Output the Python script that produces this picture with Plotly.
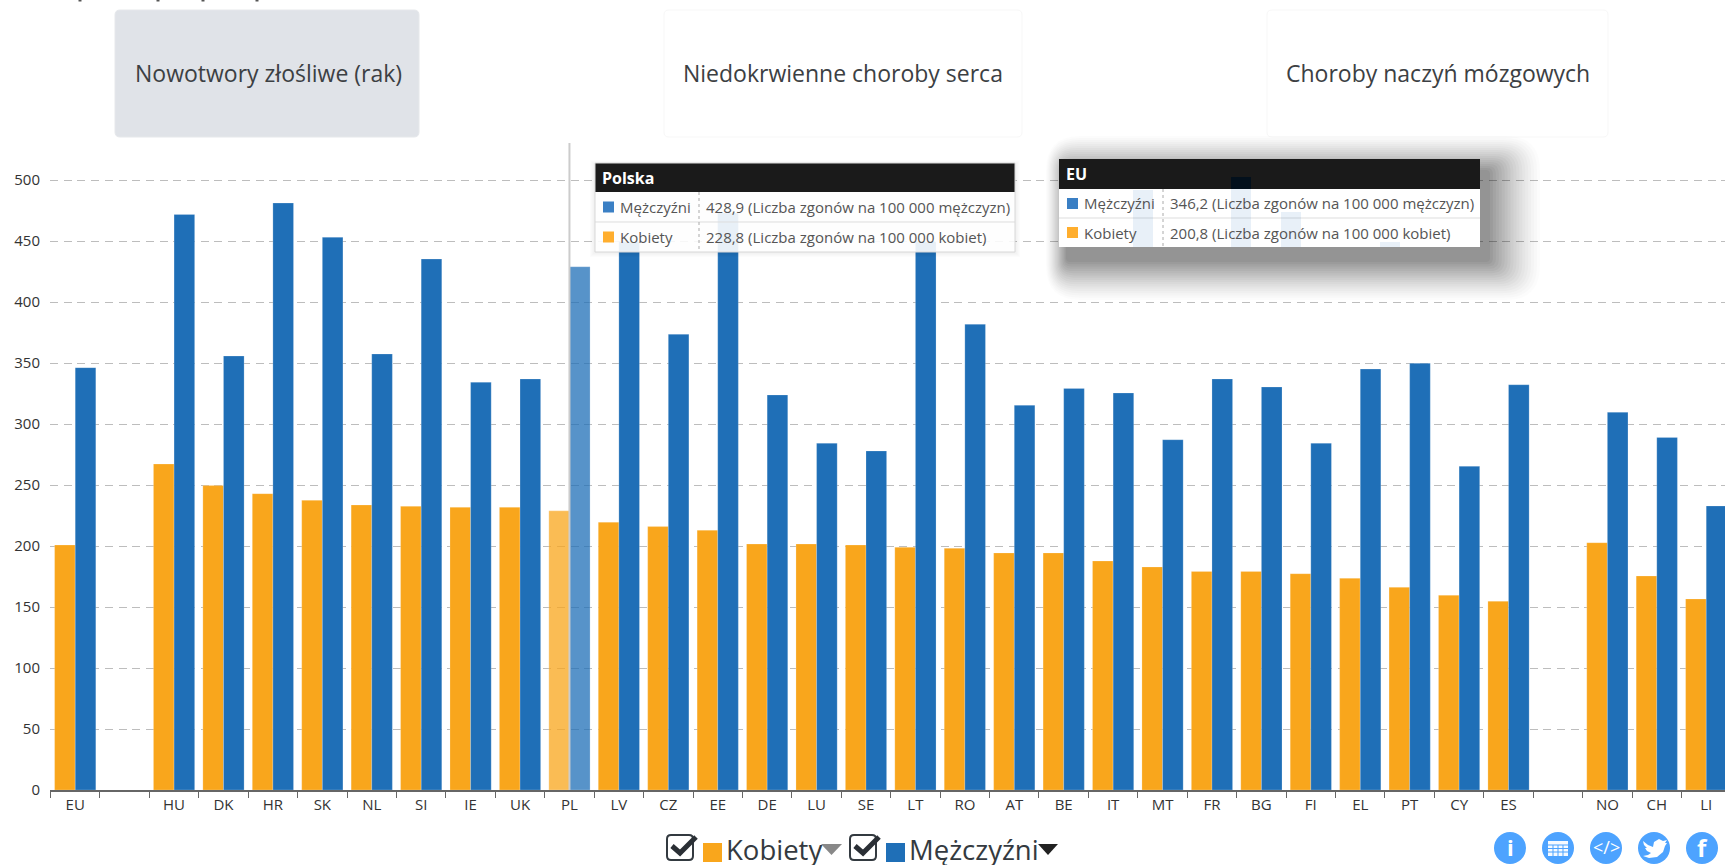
import plotly.graph_objects as go

categories = ["EU", " ", "HU", "DK", "HR", "SK", "NL", "SI", "IE", "UK", "PL", "LV", "CZ", "EE", "DE", "LU", "SE",
              "LT", "RO", "AT", "BE", "IT", "MT", "FR", "BG", "FI", "EL", "PT", "CY", "ES", "  ", "NO", "CH", "LI"]
kobiety = [200.8, None, 267.2, 249.5, 242.9, 237.4, 233.6, 232.5, 231.7, 231.7, 228.8, 219.5, 215.9, 212.9, 201.6,
           201.6, 200.8, 198.9, 198.1, 194.3, 194.3, 187.7, 182.8, 179.2, 179.2, 177.3, 173.5, 166.1, 159.6, 154.7,
           None, 202.7, 175.4, 156.6]
mezczyzni = [346.2, None, 471.8, 355.7, 481.1, 453.0, 357.4, 435.2, 334.2, 336.9, 428.9, 449.4, 373.5, 473.0, 323.8,
             284.2, 277.9, 449.4, 381.7, 315.3, 329.2, 325.4, 287.1, 336.9, 330.3, 284.2, 345.0, 349.7, 265.3, 332.2,
             None, 309.6, 289.0, 232.8]
y_ticks = [0, 50, 100, 150, 200, 250, 300, 350, 400, 450, 500]
buttons = ["Nowotwory złośliwe (rak)", "Niedokrwienne choroby serca", "Choroby naczyń mózgowych"]

ORANGE, BLUE = "#F9A61C", "#1F6FB7"
W, H = 1725, 865
L, T, B = 50, 143, 790
FONT = "Open Sans"


def px(x):
    return (x - L) / (W - L)


def py(y):
    return (B - y) / (B - T)


shapes, notes = [], []


def rect(x0, y0, x1, y1, fill, line=None, lw=1, opacity=1):
    shapes.append(dict(type="rect", xref="paper", yref="paper", x0=px(x0), x1=px(x1), y0=py(y0), y1=py(y1),
                       fillcolor=fill, opacity=opacity, layer="above",
                       line=dict(color=line or "rgba(0,0,0,0)", width=lw if line else 0)))


def rrect(x0, y0, x1, y1, r, fill, line=None, lw=1, opacity=1):
    p = [f"M{px(x0 + r)},{py(y0)}", f"L{px(x1 - r)},{py(y0)}", f"Q{px(x1)},{py(y0)} {px(x1)},{py(y0 + r)}",
         f"L{px(x1)},{py(y1 - r)}", f"Q{px(x1)},{py(y1)} {px(x1 - r)},{py(y1)}", f"L{px(x0 + r)},{py(y1)}",
         f"Q{px(x0)},{py(y1)} {px(x0)},{py(y1 - r)}", f"L{px(x0)},{py(y0 + r)}",
         f"Q{px(x0)},{py(y0)} {px(x0 + r)},{py(y0)}", "Z"]
    shapes.append(dict(type="path", xref="paper", yref="paper", path=" ".join(p), fillcolor=fill, opacity=opacity,
                       layer="above", line=dict(color=line or "rgba(0,0,0,0)", width=lw if line else 0)))


def poly(pts, fill=None, line=None, lw=1, close=True):
    p = "M" + " L".join(f"{px(a)},{py(b)}" for a, b in pts) + (" Z" if close else "")
    shapes.append(dict(type="path", xref="paper", yref="paper", path=p, layer="above",
                       fillcolor=fill or "rgba(0,0,0,0)",
                       line=dict(color=line or "rgba(0,0,0,0)", width=lw if line else 0)))


def seg(x0, y0, x1, y1, color, lw=1, dash=None):
    shapes.append(dict(type="line", xref="paper", yref="paper", x0=px(x0), x1=px(x1), y0=py(y0), y1=py(y1),
                       layer="above", line=dict(color=color, width=lw, dash=dash or "solid")))


def text(x, y, s, size, color="#333333", anchor="left", bold=False):
    notes.append(dict(xref="paper", yref="paper", x=px(x), y=py(y), text=f"<b>{s}</b>" if bold else s,
                      showarrow=False, xanchor=anchor, yanchor="middle", align=anchor,
                      font=dict(family=FONT, size=size, color=color), borderpad=0, borderwidth=0))


# clipped heading: only the descender tips remain in view
for hx in (80, 158, 203, 257):
    rect(hx - 1.5, 0, hx + 1.5, 1.5, "#555555")

# choice buttons
rrect(115, 10, 419, 137, 5, "#E0E3E8", line="#E6E8EB")
rrect(664, 10, 1022, 137, 5, "#FFFFFF", line="#F7F7F7")
rrect(1267, 10, 1608, 137, 5, "#FFFFFF", line="#F7F7F7")
text(268, 73, buttons[0], 23, "#3C4043", "center")
text(843, 73, buttons[1], 23, "#3C4043", "center")
text(1438, 73, buttons[2], 23, "#3C4043", "center")

# crosshair at the hovered category
shapes.append(dict(type="line", xref="x", yref="paper", x0="PL", x1="PL", y0=0, y1=1, layer="above",
                   line=dict(color="#CCCCCC", width=2)))

# EU tooltip heavy shadow
n = 18
for i in range(n):
    t = i / (n - 1)
    rrect(1046 + 20 * t, 136 + 34 * t, 1540 - 50 * t, 300 - 38 * t, 30 * (1 - t) + 4, "#000000",
          opacity=0.012 + 0.032 * t)


def tooltip(x0, y0, x1, y1, head_y, row_y, col_x, title, rows, bottom=True):
    if bottom:
        for i in range(5):
            rect(x0 - 5 + i, y0 - 3 + i, x1 + 5 - i, y1 + 5 - i, "#000000", opacity=0.012)
        rect(x0, y0, x1, y1, "rgba(255,255,255,0.9)")
    else:
        rect(x0, y0, x1, y1, "#FFFFFF")
    rect(x0, y0, x1, head_y, "#1A1A1A")
    seg(x0, row_y, x1, row_y, "#DDDDDD", 1)
    seg(col_x, head_y, col_x, y1, "#AAAAAA", 1, "dot")
    if bottom:
        rect(x0, y0, x1, y1, "rgba(0,0,0,0)", line="#D8D8D8")
    text(x0 + 7, (y0 + head_y) / 2, title, 16, "#FFFFFF", bold=True)
    ys = [(head_y + row_y) / 2, (row_y + y1) / 2]
    for (name, val, color), yc in zip(rows, ys):
        rect(x0 + 8, yc - 5.5, x0 + 19, yc + 5.5, color)
        text(x0 + 25, yc, name, 15, "#555555")
        text(col_x + 7, yc, val, 15, "#555555")


tooltip(595, 163, 1015, 252, 192, 222, 699, "Polska",
        [("Mężczyźni", "428,9 (Liczba zgonów na 100 000 mężczyzn)", "#3A7FC4"),
         ("Kobiety", "228,8 (Liczba zgonów na 100 000 kobiet)", "#FFAE2E")])
tooltip(1059, 159, 1480, 247, 189, 218, 1163, "EU",
        [("Mężczyźni", "346,2 (Liczba zgonów na 100 000 mężczyzn)", "#3A7FC4"),
         ("Kobiety", "200,8 (Liczba zgonów na 100 000 kobiet)", "#FFAE2E")], bottom=False)
for a, top in ((1133, 190), (1231, 189), (1281, 212), (1380, 242)):
    rect(a, top, a + 20, 247, BLUE, opacity=0.1)
rect(1231, 177, 1251, 189, "#03101C")

# legend row
for dx, swatch, label, tri_x, tri_w, tri_c in ((0, ORANGE, "Kobiety", 821, 21, "#888888"),
                                               (183, BLUE, "Mężczyźni", 1038, 20, "#222222")):
    rrect(667 + dx, 835, 693 + dx, 860, 4, "rgba(0,0,0,0)", line="#333A40", lw=2)
    poly([(672 + dx, 846), (680 + dx, 853), (696 + dx, 837)], line="#2A2F35", lw=5, close=False)
    rect(703 + dx, 843, 722 + dx, 862, swatch)
    text(726 + dx, 849, label, 27.5, "#343A40")
    poly([(tri_x, 844), (tri_x + tri_w, 844), (tri_x + tri_w / 2, 855)], fill=tri_c)

# action icons
ICON = "#4DA3FF"
for cx in (1510, 1558, 1606, 1654, 1702):
    shapes.append(dict(type="circle", xref="paper", yref="paper", x0=px(cx - 16), x1=px(cx + 16), y0=py(864),
                       y1=py(832), fillcolor=ICON, line=dict(width=0), layer="above"))
text(1510, 847, "i", 22, "#FFFFFF", "center", True)
rect(1548, 841, 1568, 856, "#FFFFFF", opacity=0.95)
for gy in (845, 848.5, 852):
    seg(1548, gy, 1568, gy, ICON, 1)
for gx in (1553, 1558, 1563):
    seg(gx, 845, gx, 856, ICON, 1)
text(1606, 847, "&lt;/&gt;", 18, "#FFFFFF", "center")
poly([(1643, 841), (1648, 845), (1653, 847), (1654, 842), (1659, 839), (1663, 841), (1667, 840), (1665, 843),
      (1667, 843), (1665, 846), (1663, 852), (1657, 857), (1649, 858), (1643, 856), (1648, 855), (1651, 853),
      (1647, 851), (1645, 848), (1647, 848), (1644, 845)], fill="#FFFFFF")
text(1702, 847, "f", 24, "#FFFFFF", "center", True)

hover_opacity = [0.75 if c == "PL" else 1 for c in categories]
edge = dict(color="rgba(255,255,255,0.2)", width=1)

fig = go.Figure()
fig.add_bar(name="Kobiety", x=categories, y=kobiety, marker=dict(color=ORANGE, opacity=hover_opacity, line=edge))
fig.add_bar(name="Mężczyźni", x=categories, y=mezczyzni, marker=dict(color=BLUE, opacity=hover_opacity, line=edge))
fig.update_layout(
    width=W, height=H, autosize=False, barmode="group", bargap=0.166, bargroupgap=0, showlegend=False,
    margin=dict(l=L, r=0, t=T, b=H - B, pad=0), paper_bgcolor="white", plot_bgcolor="white",
    font=dict(family=FONT, size=14, color="#333333"), shapes=shapes, annotations=notes,
    xaxis=dict(type="category", categoryorder="array", categoryarray=categories, range=[-0.51, 33.38],
               tickmode="array", tickvals=categories, ticktext=categories, tickson="boundaries", ticks="outside",
               ticklen=6, tickcolor="#666666", tickwidth=1, showline=True, linecolor="#666666", linewidth=1.5,
               showgrid=False, tickfont=dict(size=15, color="#333333"), tickangle=0),
    yaxis=dict(range=[0, (B - T) / 1.22], tickmode="array", tickvals=y_ticks, ticks="", showline=False,
               showgrid=True, gridcolor="#BDBDBD", griddash="8px,5.7px", gridwidth=1.3, zeroline=False,
               ticklabelstandoff=9, tickfont=dict(size=15, color="#333333")),
)
fig.write_html("out.html", config=dict(displayModeBar=False),
               post_script="document.body.style.margin='0';document.body.style.overflow='hidden';")
